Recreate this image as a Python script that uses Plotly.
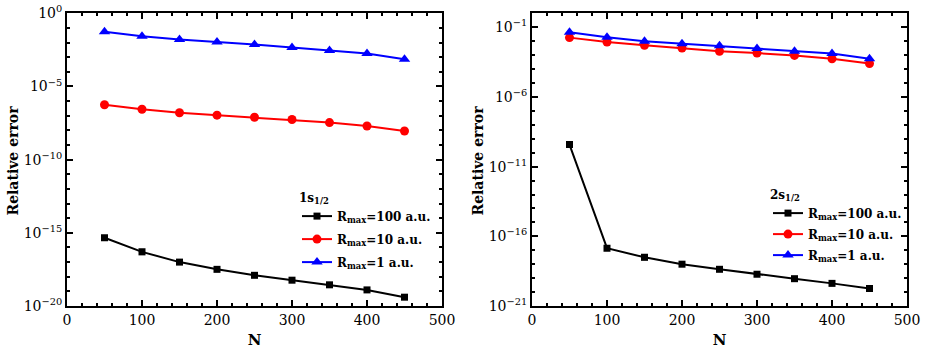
import plotly.graph_objects as go

N = [50, 100, 150, 200, 250, 300, 350, 400, 450]

# 1s1/2 panel
s1_r100 = [4.6e-16, 5e-17, 1e-17, 3.2e-18, 1.25e-18, 5.8e-19, 2.8e-19, 1.26e-19, 4e-20]
s1_r10 = [5.6e-7, 2.8e-7, 1.6e-7, 1.1e-7, 7.9e-8, 5.5e-8, 3.4e-8, 2e-8, 9e-9]
s1_r1 = [0.055, 0.027, 0.016, 0.011, 0.0074, 0.0046, 0.0029, 0.0018, 7.2e-4]

# 2s1/2 panel
s2_r100 = [3.8e-10, 1.4e-17, 3.1e-18, 1e-18, 4.3e-19, 1.9e-19, 9.1e-20, 4.2e-20, 1.8e-20]
s2_r10 = [0.018, 0.0087, 0.005, 0.0032, 0.0019, 0.0014, 9.5e-4, 5.5e-4, 2.5e-4]
s2_r1 = [0.043, 0.019, 0.010, 0.0065, 0.0047, 0.003, 0.0019, 0.0013, 5.5e-4]

series_names = ["R<sub>max</sub>=100 a.u.", "R<sub>max</sub>=10 a.u.", "R<sub>max</sub>=1 a.u."]
legend_titles = ["1s<sub>1/2</sub>", "2s<sub>1/2</sub>"]
y_title = "Relative error"
x_title = "N"

left_tickvals = [1e0, 1e-5, 1e-10, 1e-15, 1e-20]
left_ticktext = ["10<sup>0</sup>", "10<sup>−5</sup>", "10<sup>−10</sup>", "10<sup>−15</sup>", "10<sup>−20</sup>"]
right_tickvals = [1e-1, 1e-6, 1e-11, 1e-16, 1e-21]
right_ticktext = ["10<sup>−1</sup>", "10<sup>−6</sup>", "10<sup>−11</sup>", "10<sup>−16</sup>", "10<sup>−21</sup>"]

FONT = "DejaVu Serif"
colors = ["black", "red", "blue"]
symbols = ["square", "circle", "triangle-up"]
msizes = [7, 9, 10]

fig = go.Figure()

panels = [
    ([s1_r100, s1_r10, s1_r1], "x", "y", "legend", "a"),
    ([s2_r100, s2_r10, s2_r1], "x2", "y2", "legend2", "b"),
]
for data, xa, ya, lg, gp in panels:
    for i, ys in enumerate(data):
        fig.add_trace(go.Scatter(
            x=N, y=ys, mode="lines+markers", name=series_names[i],
            line=dict(color=colors[i], width=2),
            marker=dict(symbol=symbols[i], size=msizes[i], color=colors[i]),
            xaxis=xa, yaxis=ya, legend=lg, legendgroup=gp + str(i),
        ))

W, H = 926, 357
axis_common = dict(
    showline=True, linecolor="black", linewidth=2, mirror="ticks",
    ticks="inside", ticklen=6, tickwidth=1.5, tickcolor="black",
    showgrid=False, zeroline=False, automargin=False,
    tickfont=dict(family=FONT, size=14, color="black"),
)

xcommon = dict(axis_common, range=[0, 500], tickmode="linear", tick0=0, dtick=100,
               minor=dict(tickmode="linear", tick0=0, dtick=20, ticks="inside", ticklen=3,
                          tickwidth=1.5, tickcolor="black"),
               title=dict(text=x_title, font=dict(family=FONT, size=15, color="black", weight="bold"), standoff=8))

ycommon = dict(axis_common, type="log", tickmode="array",
               minor=dict(tickmode="linear", tick0=0, dtick=1, ticks="inside", ticklen=3,
                          tickwidth=1.5, tickcolor="black"))

legfont = dict(family=FONT, size=12, color="black", weight="bold")

fig.update_layout(
    width=W, height=H,
    margin=dict(l=0, r=0, t=0, b=0, autoexpand=False),
    paper_bgcolor="white", plot_bgcolor="white",
    showlegend=True,
    xaxis=dict(xcommon, domain=[67 / W, 442 / W], anchor="y"),
    xaxis2=dict(xcommon, domain=[532 / W, 907 / W], anchor="y2"),
    yaxis=dict(ycommon, range=[-20, 0], anchor="x", domain=[1 - 306 / H, 1 - 13.3 / H],
               tickvals=left_tickvals, ticktext=left_ticktext),
    yaxis2=dict(ycommon, range=[-21, 0], anchor="x2", domain=[1 - 306 / H, 1 - 13.3 / H],
                tickvals=right_tickvals, ticktext=right_ticktext),
    legend=dict(x=297 / W, y=1 - 186 / H, xanchor="left", yanchor="top",
                bgcolor="rgba(0,0,0,0)", tracegroupgap=4, itemwidth=30,
                title=dict(text=legend_titles[0], font=legfont), font=legfont),
    legend2=dict(x=768 / W, y=1 - 183 / H, xanchor="left", yanchor="top",
                 bgcolor="rgba(0,0,0,0)", tracegroupgap=2, itemwidth=30,
                 title=dict(text=legend_titles[1], font=legfont), font=legfont),
    annotations=[
        dict(text=y_title, x=12.5 / W, y=1 - 161 / H, xref="paper", yref="paper", textangle=-90,
             showarrow=False, xanchor="center", yanchor="middle",
             font=dict(family=FONT, size=14, color="black", weight="bold")),
        dict(text=y_title, x=477.5 / W, y=1 - 161 / H, xref="paper", yref="paper", textangle=-90,
             showarrow=False, xanchor="center", yanchor="middle",
             font=dict(family=FONT, size=14, color="black", weight="bold")),
    ],
)

fig.write_html("out.html")
